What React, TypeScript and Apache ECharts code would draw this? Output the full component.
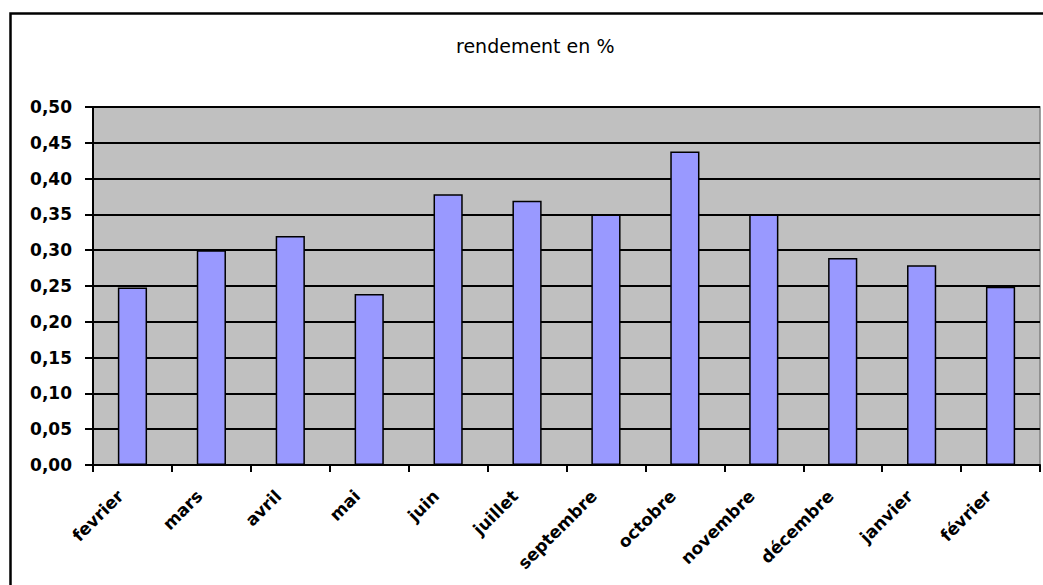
import React, { useEffect, useRef } from "react";
import * as echarts from "echarts";

// Monthly yield, in percent
const months = [
  "fevrier",
  "mars",
  "avril",
  "mai",
  "juin",
  "juillet",
  "septembre",
  "octobre",
  "novembre",
  "décembre",
  "janvier",
  "février",
];
const rendement = [0.248, 0.3, 0.32, 0.239, 0.378, 0.369, 0.35, 0.438, 0.35, 0.289, 0.279, 0.249];

const chartTitle = "rendement en %";
const yMin = 0;
const yMax = 0.5;
const yStep = 0.05;

const FONT = "'DejaVu Sans', Verdana, sans-serif";

export default function App() {
  const ref = useRef<HTMLDivElement | null>(null);

  useEffect(() => {
    if (!ref.current) return;
    const chart = echarts.init(ref.current, undefined, { renderer: "svg" });
    chart.setOption({
      animation: false,
      backgroundColor: "#ffffff",
      title: {
        text: chartTitle,
        left: 451,
        top: 31,
        textStyle: {
          fontFamily: FONT,
          fontSize: 19,
          fontWeight: "normal",
          color: "#000",
        },
      },
      graphic: [
        {
          type: "rect",
          shape: { x: 10.5, y: 13.5, width: 1100, height: 700 },
          style: { fill: "none", stroke: "#000", lineWidth: 2.5 },
          silent: true,
          z: 100,
        },
      ],
      grid: {
        left: 93,
        right: 3,
        top: 107,
        bottom: 120,
        show: true,
        backgroundColor: "#c0c0c0",
        borderColor: "#808080",
        borderWidth: 1.5,
      },
      xAxis: {
        type: "category",
        data: months,
        axisLine: { lineStyle: { color: "#000", width: 2 } },
        axisTick: {
          show: true,
          alignWithLabel: false,
          length: 7,
          lineStyle: { color: "#000", width: 2 },
        },
        axisLabel: {
          interval: 0,
          rotate: 45,
          margin: 16,
          padding: [0, 17, 0, 0],
          fontFamily: FONT,
          fontSize: 17,
          fontWeight: "bold",
          color: "#000",
        },
        splitLine: { show: false },
      },
      yAxis: {
        type: "value",
        min: yMin,
        max: yMax,
        interval: yStep,
        axisLine: { show: true, lineStyle: { color: "#000", width: 2 } },
        axisTick: { show: true, length: 8, lineStyle: { color: "#000", width: 2 } },
        axisLabel: {
          margin: 21,
          fontFamily: FONT,
          fontSize: 17,
          fontWeight: "bold",
          color: "#000",
          formatter: (v: number) => v.toFixed(2).replace(".", ","),
        },
        splitLine: { show: true, lineStyle: { color: "#000", width: 2 } },
      },
      series: [
        {
          type: "bar",
          data: rendement,
          barWidth: "37%",
          itemStyle: {
            color: "#9999ff",
            borderColor: "#000",
            borderWidth: 1.5,
          },
        },
      ],
    });
    return () => chart.dispose();
  }, []);

  return (
    <div
      ref={ref}
      style={{ position: "fixed", left: 0, top: 0, width: 1043, height: 585 }}
    />
  );
}
